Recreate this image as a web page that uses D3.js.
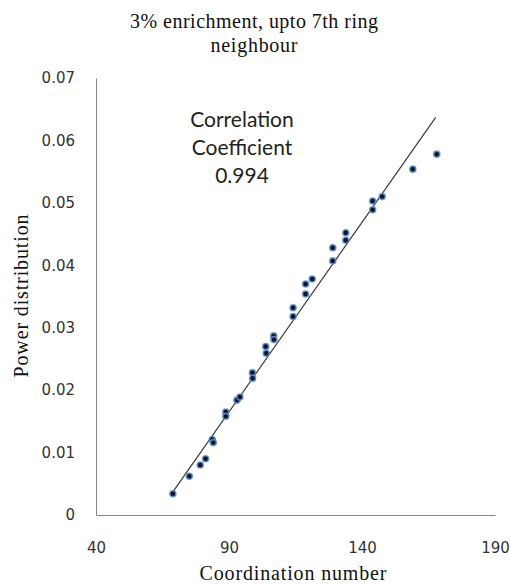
<!DOCTYPE html>
<html>
<head>
<meta charset="utf-8">
<script src="https://cdn.jsdelivr.net/npm/d3@7"></script>
<style>
  body { margin: 0; background: #fff; }
  .axis path { stroke: #868686; }
  .axis text { font-family: "DejaVu Sans", sans-serif; font-size: 15px; fill: #333; }
</style>
</head>
<body>
<div class="chart"></div>
<script>
// values
const coordination = [68.9, 75.1, 79.2, 81.2, 83.7, 84.1, 88.8, 88.8, 93.0, 94.1,
    98.8, 98.9, 103.8, 104.0, 106.8, 106.9, 114.1, 114.1, 118.8, 118.8,
    121.3, 129.0, 129.0, 133.9, 133.9, 144.0, 144.0, 147.6, 159.1, 168.1];
const power = [0.0034, 0.0062, 0.0080, 0.0090, 0.0121, 0.0116, 0.0165, 0.0158, 0.0184, 0.0189,
    0.0228, 0.0219, 0.0270, 0.0259, 0.0287, 0.0281, 0.0332, 0.0318, 0.0370, 0.0354,
    0.0378, 0.0428, 0.0407, 0.0452, 0.0440, 0.0503, 0.0489, 0.0510, 0.0554, 0.0578];
const trendX = [68.9, 167.7];
const trendY = [0.0037, 0.0637];
const xTicks = [40, 90, 140, 190];
const yTicks = [0, 0.01, 0.02, 0.03, 0.04, 0.05, 0.06, 0.07];
const titleLines = ["3% enrichment, upto 7th ring", "neighbour"];
const noteLines = ["Correlation", "Coefficient", "0.994"];

//Margin convention
const margin = {top: 78, left: 96, bottom: 70, right: 15};
const width = 510 - margin.left - margin.right;
const height = 585 - margin.top - margin.bottom;

const svg = d3.select('.chart').append('svg')
    .attr('width', 510)
    .attr('height', 585)
    .append('g')
    .attr('transform', 'translate(' + margin.left + ',' + margin.top + ')');

//Scales
const xScale = d3.scaleLinear().domain([40, 190]).range([0, width]);
const yScale = d3.scaleLinear().domain([0, 0.07]).range([height, 0]);

//Axes
const xAxis = d3.axisBottom(xScale)
    .tickValues(xTicks)
    .tickSize(0)
    .tickSizeOuter(0)
    .tickPadding(27);

const yAxis = d3.axisLeft(yScale)
    .tickValues(yTicks)
    .tickSize(0)
    .tickSizeOuter(0)
    .tickPadding(21)
    .tickFormat(d => d === 0 ? "0" : d3.format(".2f")(d));

svg.append('g')
    .attr('class', 'axis x-axis')
    .attr('transform', `translate(0, ${height})`)
    .call(xAxis);

svg.append('g')
    .attr('class', 'axis y-axis')
    .call(yAxis);

//trend line
const line = d3.line()
    .x(d => xScale(d[0]))
    .y(d => yScale(d[1]));

svg.append('path')
    .datum(d3.zip(trendX, trendY))
    .attr('d', line)
    .attr('fill', 'none')
    .attr('stroke', '#3a3a3a')
    .attr('stroke-width', 1.2);

//points
svg.selectAll('.dot')
    .data(d3.zip(coordination, power))
    .enter()
    .append('circle')
    .attr('class', 'dot')
    .attr('cx', d => xScale(d[0]))
    .attr('cy', d => yScale(d[1]))
    .attr('r', 3)
    .attr('fill', '#10131c')
    .attr('stroke', '#5b8ed6')
    .attr('stroke-width', 1.6)
    .attr('stroke-opacity', 0.85);

//title
const title = svg.append('text')
    .attr('text-anchor', 'middle')
    .style('font-family', '"Liberation Serif", serif')
    .style('font-size', '20px')
    .style('fill', '#111');

title.append('tspan')
    .attr('x', 254 - margin.left)
    .attr('y', 28 - margin.top)
    .attr('textLength', 248)
    .attr('lengthAdjust', 'spacing')
    .text(titleLines[0]);

title.append('tspan')
    .attr('x', 254 - margin.left)
    .attr('y', 52 - margin.top)
    .attr('textLength', 87)
    .attr('lengthAdjust', 'spacing')
    .text(titleLines[1]);

//correlation note
svg.append('text')
    .attr('text-anchor', 'middle')
    .attr('x', 242 - margin.left)
    .attr('y', 127 - margin.top)
    .style('font-family', 'Lato, sans-serif')
    .style('font-size', '21px')
    .style('fill', '#222')
    .selectAll('tspan')
    .data(noteLines)
    .enter()
    .append('tspan')
    .attr('x', 242 - margin.left)
    .attr('dy', (d, i) => i === 0 ? 0 : 28)
    .text(d => d);

//x-axis label
svg.append('text')
    .attr('text-anchor', 'middle')
    .attr('x', 293 - margin.left)
    .attr('y', 580 - margin.top)
    .attr('textLength', 187)
    .attr('lengthAdjust', 'spacing')
    .style('font-family', '"Liberation Serif", serif')
    .style('font-size', '20px')
    .style('fill', '#111')
    .text('Coordination number');

//y-axis label
svg.append('text')
    .attr('text-anchor', 'middle')
    .attr('transform', `translate(${28 - margin.left}, ${296 - margin.top}) rotate(-90)`)
    .attr('textLength', 163)
    .attr('lengthAdjust', 'spacing')
    .style('font-family', '"Liberation Serif", serif')
    .style('font-size', '20px')
    .style('fill', '#111')
    .text('Power  distribution');
</script>
</body>
</html>
